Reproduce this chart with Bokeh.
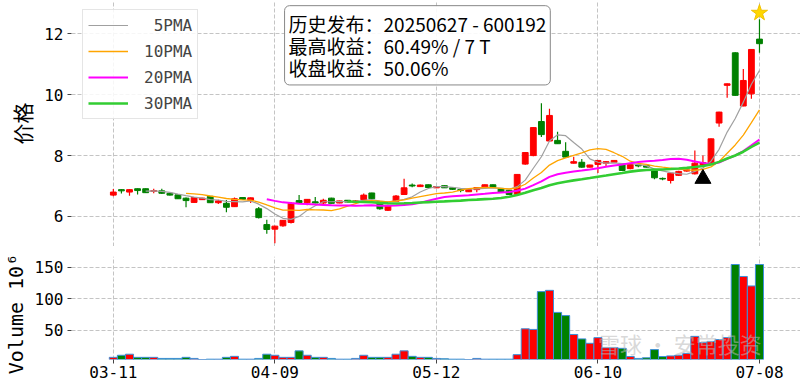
import numpy as np
import pandas as pd
from bokeh.plotting import figure
from bokeh.layouts import column
from bokeh.models import (ColumnDataSource, Range1d, FixedTicker, Legend,
                          LegendItem, Label)
from bokeh.embed import file_html
from bokeh.resources import INLINE

# ---------------- data ----------------
dates = ["03-11", "03-12", "03-13", "03-14", "03-17", "03-18", "03-19", "03-20", "03-21",
         "03-24", "03-25", "03-26", "03-27", "03-28", "03-31", "04-01", "04-02", "04-03",
         "04-07", "04-08", "04-09", "04-10", "04-11", "04-14", "04-15", "04-16", "04-17",
         "04-18", "04-21", "04-22", "04-23", "04-24", "04-25", "04-28", "04-29", "04-30",
         "05-06", "05-07", "05-08", "05-09", "05-12", "05-13", "05-14", "05-15", "05-16",
         "05-19", "05-20", "05-21", "05-22", "05-23", "05-26", "05-27", "05-28", "05-29",
         "05-30", "06-03", "06-04", "06-05", "06-06", "06-09", "06-10", "06-11", "06-12",
         "06-13", "06-16", "06-17", "06-18", "06-19", "06-20", "06-23", "06-24", "06-25",
         "06-26", "06-27", "06-30", "07-01", "07-02", "07-03", "07-04", "07-07", "07-08"]

opens = [6.70, 6.88, 6.80, 6.91, 6.91, 6.82, 6.84, 6.76, 6.71, 6.60,
         6.46, 6.55, 6.66, 6.45, 6.43, 6.32, 6.62, 6.53, 6.25, 5.73,
         5.58, 5.69, 5.80, 6.52, 6.45, 6.48, 6.44, 6.60, 6.44, 6.53,
         6.46, 6.55, 6.77, 6.48, 6.20, 6.50, 6.72, 7.03, 6.98, 7.04,
         6.94, 7.01, 6.94, 6.88, 6.81, 6.88, 6.96, 7.04, 6.92, 6.86,
         6.73, 7.72, 8.00, 9.12, 8.48, 8.50, 8.14, 7.75, 7.78, 7.62,
         7.71, 7.75, 7.78, 7.71, 7.57, 7.69, 7.68, 7.51, 7.25, 7.18,
         7.35, 7.49, 7.40, 7.70, 7.75, 9.07, 10.31, 11.38, 9.63, 10.03,
         11.83]
highs = [6.90, 6.89, 6.89, 6.92, 6.92, 6.91, 6.91, 6.77, 6.72, 6.62,
         6.63, 6.61, 6.67, 6.55, 6.54, 6.62, 6.63, 6.62, 6.31, 5.89,
         5.69, 5.88, 6.47, 6.70, 6.57, 6.64, 6.58, 6.61, 6.52, 6.54,
         6.53, 6.75, 6.78, 6.50, 6.38, 6.70, 7.24, 7.08, 7.05, 7.05,
         7.00, 7.02, 6.95, 6.89, 6.89, 6.96, 7.05, 7.05, 6.93, 6.87,
         7.39, 8.11, 8.93, 9.72, 9.54, 8.78, 8.44, 7.96, 7.89, 7.70,
         7.85, 7.81, 7.85, 7.72, 7.73, 7.70, 7.69, 7.52, 7.28, 7.43,
         7.50, 7.55, 8.17, 8.00, 8.56, 9.44, 10.37, 11.40, 10.85, 11.50,
         12.48]
lows = [6.66, 6.75, 6.68, 6.72, 6.77, 6.76, 6.74, 6.69, 6.57, 6.30,
        6.45, 6.54, 6.44, 6.41, 6.14, 6.31, 6.55, 6.44, 5.93, 5.43,
        5.12, 5.66, 5.77, 6.44, 6.37, 6.43, 6.41, 6.42, 6.43, 6.46,
        6.45, 6.54, 6.56, 6.22, 6.18, 6.49, 6.71, 6.96, 6.97, 6.94,
        6.93, 6.93, 6.87, 6.79, 6.80, 6.79, 6.95, 6.95, 6.78, 6.70,
        6.71, 7.70, 7.98, 8.61, 8.46, 8.38, 7.94, 7.74, 7.60, 7.61,
        7.43, 7.65, 7.77, 7.50, 7.55, 7.62, 7.61, 7.22, 7.19, 7.08,
        7.33, 7.47, 7.38, 7.66, 7.74, 8.95, 9.90, 9.97, 9.62, 9.87,
        11.38]
closes = [6.80, 6.84, 6.88, 6.85, 6.78, 6.85, 6.76, 6.70, 6.58, 6.52,
          6.62, 6.60, 6.45, 6.51, 6.30, 6.58, 6.56, 6.61, 5.96, 5.57,
          5.68, 5.87, 6.43, 6.45, 6.56, 6.44, 6.53, 6.43, 6.51, 6.47,
          6.51, 6.70, 6.58, 6.25, 6.36, 6.67, 6.94, 7.00, 7.03, 6.95,
          6.98, 6.94, 6.89, 6.85, 6.88, 6.95, 7.04, 6.96, 6.80, 6.72,
          7.38, 8.10, 8.92, 8.69, 9.32, 8.39, 7.95, 7.80, 7.62, 7.69,
          7.84, 7.80, 7.84, 7.51, 7.71, 7.66, 7.62, 7.27, 7.23, 7.42,
          7.48, 7.53, 7.75, 7.77, 8.55, 9.43, 10.36, 9.98, 10.47, 11.49,
          11.68]
# volume in units of 10^6
volumes = [6.7, 10, 11.7, 6.7, 6.7, 6.7, 5, 5, 5, 6.7,
           5, 3.0, 3.8, 3.8, 6.7, 8.3, 3.8, 3.8, 5, 11.7,
           10, 6.7, 6.7, 17, 10, 6.7, 6.7, 5, 3.8, 3.8,
           5, 10, 6.7, 6.7, 6.7, 11.7, 17, 8.3, 6.7, 6.7,
           5, 4.5, 3.8, 3.8, 3.0, 5, 3.8, 3.8, 3.8, 3.8,
           11, 52, 51, 111, 113, 78, 73, 43, 36, 29,
           38, 22, 22, 21, 8, 5, 6, 19, 8, 9,
           10, 13, 40, 30, 32, 35, 38, 154, 135, 120,
           154]

ma_windows = [5, 10, 20, 30]
ma_labels = [" 5PMA", "10PMA", "20PMA", "30PMA"]
ma_colors = ["#a0a0a0", "#ffa500", "#ff00ff", "#32cd32"]
ma_widths = [1.2, 1.3, 2.0, 2.6]

signal_date = "06-27"
info_lines = ["历史发布：20250627 - 600192",
              "最高收益：60.49% / 7 T",
              "收盘收益：50.06%"]
tick_step = 20
price_ticks = [6, 8, 10, 12]
vol_ticks = [50, 100, 150]
watermark = "雪球 · 安常投资"

# ---------------- derived ----------------
n = len(dates)
x = np.arange(n)
o = np.array(opens); h = np.array(highs); l = np.array(lows); c = np.array(closes)
up = c >= o
RED, GREEN = "#ff0000", "#008000"
colors = [RED if u else GREEN for u in up]
src = ColumnDataSource(dict(x=x, open=o, high=h, low=l, close=c,
                            top=np.maximum(o, c), bottom=np.minimum(o, c),
                            color=colors, vol=np.array(volumes)))
tick_idx = list(range(0, n, tick_step))
overrides = {i: dates[i] for i in tick_idx}

GRID = "#c4c4c4"
MONO = "DejaVu Sans Mono"
CJK = "Noto Sans CJK SC"

xr = Range1d(-5.18, 85.08)


def style(fig):
    fig.outline_line_color = None
    fig.background_fill_color = "white"
    fig.border_fill_color = "white"
    for ax in fig.axis:
        ax.axis_line_color = None
        ax.major_tick_line_color = "#444444"
        ax.major_tick_out = 4
        ax.major_tick_in = 0
        ax.minor_tick_line_color = None
        ax.major_label_text_font = MONO
        ax.major_label_text_font_size = "16px"
        ax.major_label_text_color = "black"
        ax.major_label_standoff = 4
        ax.axis_label_text_font_style = "normal"
        ax.axis_label_text_color = "black"
    for g in fig.grid:
        g.grid_line_color = GRID
        g.grid_line_dash = "4 2"
        g.grid_line_width = 1


# ---------------- price panel ----------------
p = figure(width=800, height=246, x_range=xr, y_range=Range1d(5.01, 13.10),
           output_backend="svg", toolbar_location=None,
           min_border_left=68, min_border_right=0, min_border_top=0,
           min_border_bottom=0)
p.xaxis.visible = False
p.xgrid.ticker = FixedTicker(ticks=tick_idx)
p.yaxis.ticker = FixedTicker(ticks=price_ticks)
p.yaxis.axis_label = "价格"
p.yaxis.axis_label_text_font = CJK
p.yaxis.axis_label_text_font_size = "21px"
p.yaxis.axis_label_standoff = 4
style(p)

p.segment(x0="x", y0="low", x1="x", y1="high", color="color", line_width=1.2, source=src)
p.vbar(x="x", width=0.72, top="top", bottom="bottom", fill_color="color",
       line_color="color", line_width=1, source=src)

items = []
cs = pd.Series(closes)
for w, lab, col, lw in zip(ma_windows, ma_labels, ma_colors, ma_widths):
    ma = cs.rolling(w).mean().to_numpy()
    r = p.line(x, ma, line_color=col, line_width=lw)
    items.append(LegendItem(label=lab, renderers=[r]))

leg = Legend(items=items, location=(11, 127), margin=0, padding=5, spacing=6,
             glyph_width=40, glyph_height=20, label_height=20, label_standoff=16,
             label_text_font=MONO, label_text_font_size="16px",
             border_line_color="#cccccc", border_line_width=1,
             background_fill_color="white", background_fill_alpha=0.85)
p.add_layout(leg)

si = dates.index(signal_date)
p.scatter([si], [l[si] * 0.945], marker="triangle", size=16, color="black")
last = n - 1
p.scatter([last], [h[last] * 1.017], marker="star", size=17,
          fill_color="#ffd700", line_color="#f0c000")

info = Label(x=21.2, y=12.93, x_units="data", y_units="data",
             text="\n".join(info_lines), anchor="top_left",
             text_font=CJK, text_font_size="19px", text_line_height=0.82,
             text_color="black", padding=4,
             border_line_color="#888888", border_line_width=1, border_radius=5,
             background_fill_color="white", background_fill_alpha=0.9)
p.add_layout(info)

# ---------------- volume panel ----------------
v = figure(width=800, height=134, x_range=xr, y_range=Range1d(3.3, 166.7),
           output_backend="svg", toolbar_location=None,
           min_border_left=68, min_border_right=0, min_border_top=10,
           min_border_bottom=0)
v.xaxis.ticker = FixedTicker(ticks=tick_idx)
v.xaxis.major_label_overrides = overrides
v.yaxis.ticker = FixedTicker(ticks=vol_ticks)
v.yaxis.axis_label = "Volume  10⁶"
v.yaxis.axis_label_text_font = MONO
v.yaxis.axis_label_text_font_size = "20px"
v.yaxis.axis_label_standoff = 4
style(v)
v.xaxis.major_label_standoff = 2

v.vbar(x="x", width=1.0, top="vol", bottom=0, fill_color="color",
       line_color="#3d8fd9", line_width=1, source=src)

wm = Label(x=60.0, y=3.6, x_units="data", y_units="data", text=watermark,
           anchor="bottom_left", text_font=CJK, text_font_size="22px",
           text_color="#b8b8b8", text_alpha=0.55)
v.add_layout(wm)

layout = column(p, v, spacing=0)
open("out.html", "w").write(file_html(layout, INLINE))
